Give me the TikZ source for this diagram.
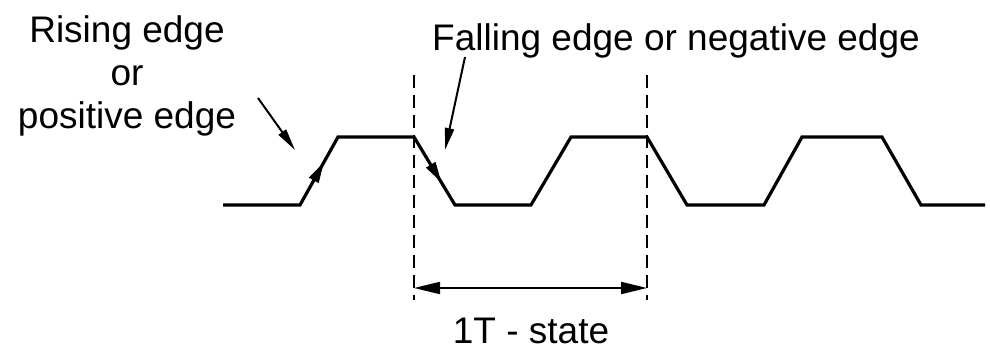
\documentclass[tikz,border=0pt]{standalone}
\usepackage{fontspec}
\setmainfont{Liberation Sans}
\usepackage{tikz}
\usetikzlibrary{arrows.meta}
\usetikzlibrary{decorations.markings}
\tikzstyle{wave} = [line width=1.6pt,line join=miter]
\tikzstyle{guide} = [line width=1.2pt,dash pattern=on 6.5pt off 3.5pt]
\tikzstyle{lbl} = [inner sep=0pt,font=\fontsize{18.5}{21.5}\selectfont]
\tikzstyle{pointer} = [line width=1pt,-{Triangle[length=11pt,width=4.5pt]}]
\tikzstyle{dim} = [line width=1pt,{Triangle[length=13pt,width=6pt]}-{Triangle[length=13pt,width=6pt]}]
\tikzset{edgearrow/.style={postaction={decorate},decoration={markings,mark=at position #1 with {\arrow{Triangle[length=10pt,width=5.5pt]}}}}}

\begin{document}
\begin{tikzpicture}[x=0.5pt,y=-0.5pt]
\useasboundingbox (0,0) rectangle (990,348);

% clock waveform
\draw[wave] (223,205) -- (300,205) -- (338,137) -- (414,137) -- (455,205) -- (531,205)
  -- (571,137) -- (647,137) -- (687,205) -- (764,205) -- (802,137) -- (882,137)
  -- (921,205) -- (985,205);
\path[edgearrow=0.62] (300,205) -- (338,137);
\path[edgearrow=0.66] (414,137) -- (455,205);

% period markers
\coordinate (g1top) at (414,75);
\coordinate (g1bot) at (414,300);
\coordinate (g2top) at (647,75);
\coordinate (g2bot) at (647,300);
\draw[guide] (g1top) -- (g1bot);
\draw[guide] (g2top) -- (g2bot);
\coordinate (dimL) at (414,288);
\coordinate (dimR) at (647,288);
\draw[dim] (dimL) -- (dimR);
\draw(531,343) node[lbl,anchor=base] (period) {1T - state};

% labels
\draw(127,76) node[lbl,align=center] (rise) {Rising edge\\or\\positive edge};
\draw(676,50) node[lbl,anchor=base] (fall) {Falling edge or negative edge};
\coordinate (risetail) at (258,98);
\coordinate (risetip) at (295,150);
\draw[pointer] (risetail) -- (risetip);
\coordinate (falltail) at (465,57);
\coordinate (falltip) at (445,150);
\draw[pointer] (falltail) -- (falltip);

\end{tikzpicture}
\end{document}
